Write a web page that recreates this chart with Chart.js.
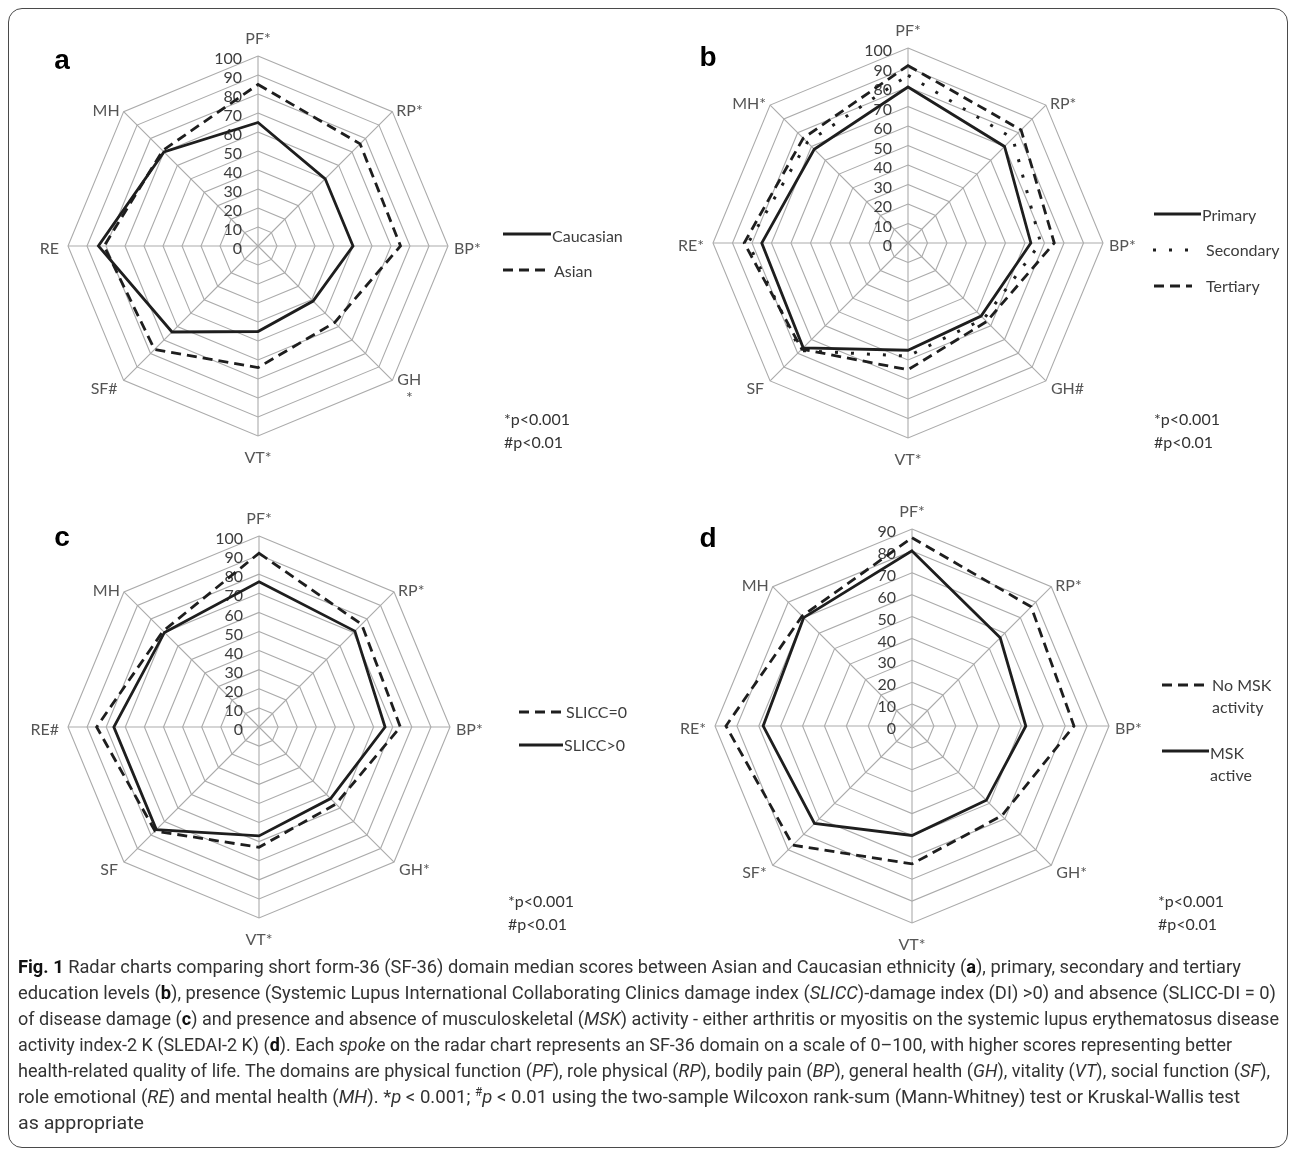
<!DOCTYPE html>
<html>
<head>
<meta charset="utf-8">
<script src="https://cdn.jsdelivr.net/npm/chart.js@4.4.0/dist/chart.umd.min.js"></script>
<style>
html,body{margin:0;padding:0;background:#fff;}
#page{position:relative;width:1295px;height:1155px;overflow:hidden;background:#fff;}
#frame{position:absolute;left:8px;top:8px;width:1280px;height:1140px;border:1.5px solid #4a4a4a;border-radius:14px;box-sizing:border-box;}
canvas{position:absolute;left:0;top:0;}
.cap{position:absolute;left:18px;white-space:nowrap;font-family:Roboto,"Open Sans",sans-serif;font-size:19px;line-height:24px;color:#333;transform-origin:0 50%;}
.cap b{font-weight:700;color:#111;}
</style>
</head>
<body>
<div id="page">
  <div id="frame"></div>
  <canvas id="ca"></canvas>
  <canvas id="cb"></canvas>
  <canvas id="cc"></canvas>
  <canvas id="cd"></canvas>
  <div class="cap" data-w="1223" style="top:955px"><b>Fig. 1</b> Radar charts comparing short form-36 (SF-36) domain median scores between Asian and Caucasian ethnicity (<b>a</b>), primary, secondary and tertiary</div>
  <div class="cap" data-w="1258" style="top:981px">education levels (<b>b</b>), presence (Systemic Lupus International Collaborating Clinics damage index (<i>SLICC</i>)-damage index (DI) &gt;0) and absence (SLICC-DI = 0)</div>
  <div class="cap" data-w="1261" style="top:1007px">of disease damage (<b>c</b>) and presence and absence of musculoskeletal (<i>MSK</i>) activity - either arthritis or myositis on the systemic lupus erythematosus disease</div>
  <div class="cap" data-w="1214" style="top:1033px">activity index-2 K (SLEDAI-2 K) (<b>d</b>). Each <i>spoke</i> on the radar chart represents an SF-36 domain on a scale of 0–100, with higher scores representing better</div>
  <div class="cap" data-w="1252" style="top:1059px">health-related quality of life. The domains are physical function (<i>PF</i>), role physical (<i>RP</i>), bodily pain (<i>BP</i>), general health (<i>GH</i>), vitality (<i>VT</i>), social function (<i>SF</i>),</div>
  <div class="cap" data-w="1222" style="top:1085px">role emotional (<i>RE</i>) and mental health (<i>MH</i>). *<i>p</i> &lt; 0.001; <sup style="font-size:12px;line-height:0">#</sup><i>p</i> &lt; 0.01 using the two-sample Wilcoxon rank-sum (Mann-Whitney) test or Kruskal-Wallis test</div>
  <div class="cap" data-w="126" style="top:1111px">as appropriate</div>
</div>
<script>
// ---------- data ----------
const domains = ['PF','RP','BP','GH','VT','SF','RE','MH'];
const labelsA = ['PF*','RP*','BP*',['GH','*'],'VT*','SF#','RE','MH'];
const labelsB = ['PF*','RP*','BP*','GH#','VT*','SF','RE*','MH*'];
const labelsC = ['PF*','RP*','BP*','GH*','VT*','SF','RE#','MH'];
const labelsD = ['PF*','RP*','BP*','GH*','VT*','SF*','RE*','MH'];

const caucasian = [65, 50, 50, 41, 45, 64, 84, 70];
const asian     = [85, 76, 75, 57, 64, 77, 81, 71];

const primary   = [80, 70, 63, 53, 55, 76, 75, 68];
const secondary = [86, 76, 68, 55, 58, 78, 82, 73];
const tertiary  = [91, 82, 75, 57, 65, 77, 84, 76];

const slicc0    = [91, 76, 74, 57, 63, 77, 85, 71];
const slicc1    = [76, 71, 66, 53, 57, 76, 76, 70];

const noMsk     = [86, 77, 74, 58, 63, 77, 85, 71];
const mskActive = [80, 57, 52, 48, 50, 63, 68, 70];

const ticks100 = ['0','10','20','30','40','50','60','70','80','90','100'];
const ticks90  = ['0','10','20','30','40','50','60','70','80','90'];

const seriesNamesA = ['Caucasian','Asian'];
const seriesNamesB = ['Primary','Secondary','Tertiary'];
const seriesNamesC = ['SLICC=0','SLICC>0'];
const seriesNamesD = [['No MSK','activity'],['MSK','active']];
const notes = ['*p<0.001','#p<0.01'];

// ---------- styles ----------
const W = 1295, H = 1155;
const INK = '#1e1e1e';
const SOLID = [];
const DASH = [10, 6];
const DOT = [3, 13];
const FONT = 'Lato, "Open Sans", sans-serif';

// label placement relative to the outer vertex of each spoke
const LBL = [
  {a:'center', dx:0,  dy:-17},
  {a:'left',   dx:4,  dy:-1},
  {a:'left',   dx:6,  dy:3},
  {a:'left',   dx:5,  dy:8},
  {a:'center', dx:0,  dy:22},
  {a:'right',  dx:-6, dy:8},
  {a:'right',  dx:-9, dy:3},
  {a:'right',  dx:-4, dy:-1}
];

function radar(id, o) {
  const cv = document.getElementById(id);
  cv.width = W; cv.height = H;
  cv.style.width = W + 'px'; cv.style.height = H + 'px';
  const deco = {
    id: 'deco_' + id,
    beforeDatasetsDraw(chart) {
      const s = chart.scales.r, ctx = chart.ctx;
      ctx.save();
      ctx.font = '16px ' + FONT;
      ctx.fillStyle = '#3c3c3c';
      ctx.textAlign = 'right';
      ctx.textBaseline = 'middle';
      o.ticks.forEach(t => {
        const p = s.getPointPositionForValue(0, Number(t));
        ctx.fillText(t, p.x - 16, p.y + 3);
      });
      ctx.restore();
    },
    afterDraw(chart) {
      const s = chart.scales.r, ctx = chart.ctx;
      ctx.save();
      // point labels
      ctx.font = '16px ' + FONT;
      ctx.fillStyle = '#555';
      ctx.textBaseline = 'middle';
      chart.data.labels.forEach((lab, i) => {
        const v = s.getPointPosition(i, s.drawingArea);
        const L = LBL[i];
        const lines = Array.isArray(lab) ? lab : [lab];
        ctx.textAlign = L.a;
        const lh = 18;
        const y0 = v.y + L.dy - (lines.length - 1) * lh / 2;
        lines.forEach((t, k) => {
          let x = v.x + L.dx;
          if (lines.length > 1 && k > 0) { ctx.textAlign = 'center'; x = v.x + L.dx + ctx.measureText(lines[0]).width / 2; }
          ctx.fillText(t, x, y0 + k * lh);
        });
      });
      // legend
      o.legend.forEach((it, i) => {
        const ds = chart.data.datasets[i];
        ctx.beginPath();
        ctx.setLineDash(ds.borderDash || []);
        ctx.lineWidth = ds.borderWidth;
        ctx.strokeStyle = ds.borderColor;
        ctx.lineCap = 'butt';
        ctx.moveTo(it.x1, it.y);
        ctx.lineTo(it.x2, it.y);
        ctx.stroke();
        ctx.setLineDash([]);
        ctx.fillStyle = '#3c3c3c';
        ctx.textAlign = 'left';
        const lines = Array.isArray(ds.label) ? ds.label : [ds.label];
        lines.forEach((t, k) => ctx.fillText(t, it.tx, it.ty + k * 22));
      });
      // notes
      ctx.fillStyle = '#333';
      ctx.textAlign = 'left';
      notes.forEach((t, k) => ctx.fillText(t, o.note.x, o.note.y + k * 23));
      // panel letter
      ctx.font = 'bold 28px "Liberation Sans", Arial, sans-serif';
      ctx.fillStyle = '#000';
      ctx.textAlign = 'center';
      ctx.textBaseline = 'alphabetic';
      ctx.fillText(o.letter, o.lx, o.ly);
      ctx.restore();
    }
  };
  const R = o.R;
  return new Chart(cv, {
    type: 'radar',
    data: {
      labels: o.labels,
      datasets: o.series.map(sr => ({
        label: sr.name,
        data: sr.data,
        borderColor: INK,
        backgroundColor: 'rgba(0,0,0,0)',
        borderWidth: sr.dash === DOT ? 3 : 2.8,
        borderDash: sr.dash,
        borderCapStyle: 'butt',
        borderJoinStyle: 'miter',
        fill: false,
        pointRadius: 0,
        pointHoverRadius: 0,
        tension: 0
      }))
    },
    options: {
      responsive: false,
      animation: false,
      devicePixelRatio: 1,
      layout: { padding: { left: o.cx - R, top: o.cy - R, right: W - (o.cx + R), bottom: H - (o.cy + R) } },
      plugins: { legend: { display: false }, tooltip: { enabled: false } },
      scales: {
        r: {
          min: 0,
          max: o.max,
          ticks: { stepSize: 10, display: false },
          grid: { color: '#ababab', lineWidth: 1.1, circular: false },
          angleLines: { color: '#ababab', lineWidth: 1.1 },
          pointLabels: { display: false }
        }
      }
    },
    plugins: [deco]
  });
}

radar('ca', {
  labels: labelsA, max: 100, ticks: ticks100, cx: 258, cy: 246, R: 190,
  series: [ {name: seriesNamesA[0], data: caucasian, dash: SOLID}, {name: seriesNamesA[1], data: asian, dash: DASH} ],
  legend: [ {x1: 503, x2: 551, y: 234, tx: 552, ty: 237}, {x1: 503, x2: 547, y: 270, tx: 554, ty: 272} ],
  note: {x: 504, y: 420}, letter: 'a', lx: 62, ly: 69
});
radar('cb', {
  labels: labelsB, max: 100, ticks: ticks100, cx: 908, cy: 243, R: 195,
  series: [ {name: seriesNamesB[0], data: primary, dash: SOLID}, {name: seriesNamesB[1], data: secondary, dash: DOT}, {name: seriesNamesB[2], data: tertiary, dash: DASH} ],
  legend: [ {x1: 1154, x2: 1201, y: 214, tx: 1202, ty: 216}, {x1: 1153, x2: 1192, y: 250, tx: 1206, ty: 251}, {x1: 1154, x2: 1192, y: 286, tx: 1206, ty: 287} ],
  note: {x: 1154, y: 420}, letter: 'b', lx: 708, ly: 66
});
radar('cc', {
  labels: labelsC, max: 100, ticks: ticks100, cx: 259, cy: 727, R: 191,
  series: [ {name: seriesNamesC[0], data: slicc0, dash: DASH}, {name: seriesNamesC[1], data: slicc1, dash: SOLID} ],
  legend: [ {x1: 519, x2: 561, y: 712, tx: 566, ty: 713}, {x1: 519, x2: 563, y: 745, tx: 564, ty: 746} ],
  note: {x: 508, y: 902}, letter: 'c', lx: 62, ly: 546
});
radar('cd', {
  labels: labelsD, max: 90, ticks: ticks90, cx: 912, cy: 726, R: 197,
  series: [ {name: seriesNamesD[0], data: noMsk, dash: DASH}, {name: seriesNamesD[1], data: mskActive, dash: SOLID} ],
  legend: [ {x1: 1162, x2: 1207, y: 685, tx: 1212, ty: 686}, {x1: 1162, x2: 1209, y: 751, tx: 1210, ty: 754} ],
  note: {x: 1158, y: 902}, letter: 'd', lx: 708, ly: 547
});

// fit caption lines to their measured widths
document.querySelectorAll('.cap').forEach(el => {
  const target = Number(el.dataset.w);
  const w = el.getBoundingClientRect().width;
  if (w > 0) el.style.transform = 'scaleX(' + (target / w) + ')';
});
</script>
</body>
</html>
